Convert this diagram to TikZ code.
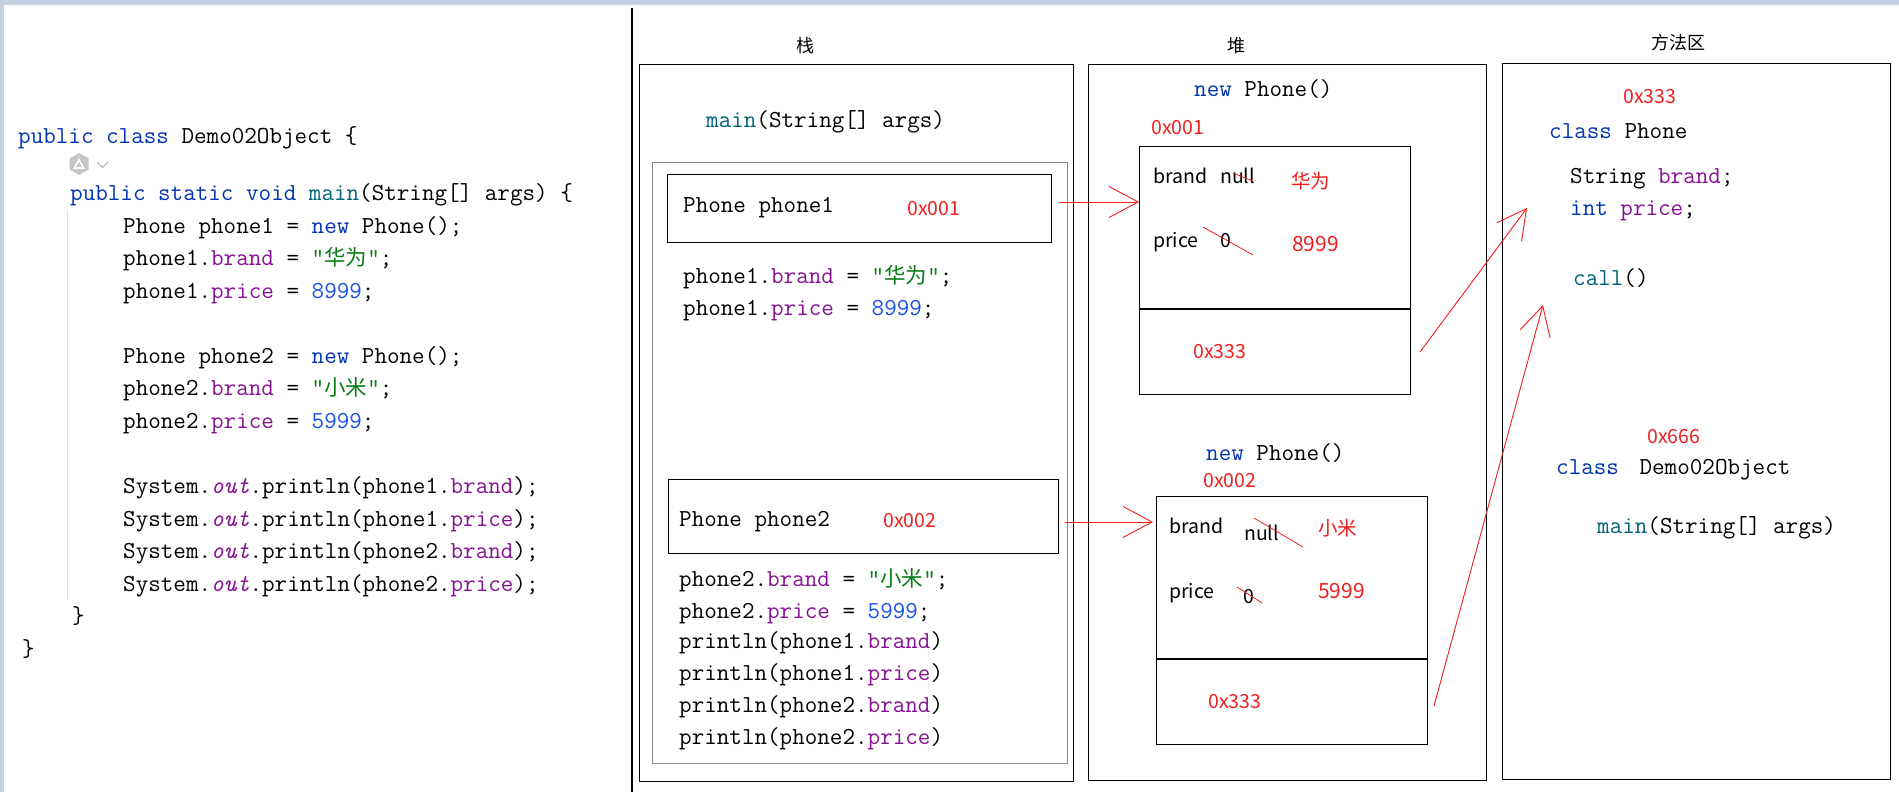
\documentclass[tikz,border=0pt]{standalone}
\usepackage{fontspec}
\usetikzlibrary{arrows.meta}
\newfontfamily\cjk{Noto Sans CJK SC}
\definecolor{ckwc}{HTML}{0033B3}
\definecolor{cfnc}{HTML}{00627A}
\definecolor{cfldc}{HTML}{871094}
\definecolor{cnumc}{HTML}{1750EB}
\definecolor{cstrc}{HTML}{067D17}
\definecolor{annc}{HTML}{F01E1E}
\definecolor{bandc}{HTML}{C5CFE0}
\definecolor{innerc}{HTML}{8C8C8C}
\newcommand{\ckw}[1]{\textcolor{ckwc}{#1}}
\newcommand{\cfn}[1]{\textcolor{cfnc}{#1}}
\newcommand{\cfld}[1]{\textcolor{cfldc}{#1}}
\newcommand{\cnum}[1]{\textcolor{cnumc}{#1}}
\newcommand{\cstr}[1]{\textcolor{cstrc}{#1}}
\newcommand{\cout}{\textcolor{cfldc}{\textit{out}}}
\newcommand{\dcj}[1]{{\cjk\fontsize{21.5}{24}\selectfont #1}}
\tikzset{
  tx/.style={anchor=west, inner sep=0pt},
  dc/.style={tx, text height=17pt, text depth=5pt, font=\fontsize{24.4}{28}\selectfont\ttfamily},
  sa/.style={tx, text height=16pt, text depth=2pt, font=\fontsize{19.5}{23}\selectfont\cjk},
  rd/.style={sa, text=annc},
  rdb/.style={sa, text=annc, font=\fontsize{21}{24}\selectfont\cjk},
  hd/.style={anchor=center, inner sep=0pt, font=\fontsize{18}{22}\selectfont\cjk},
  boxn/.style={draw, line width=1.3pt, rectangle, inner sep=0pt, anchor=north west},
  graybox/.style={boxn, draw=innerc, line width=1.2pt},
  rarrow/.style={draw=annc, line width=0.9pt, -{Straight Barb[length=29pt, width=31pt, line width=0.9pt]}},
  strike/.style={draw=annc, line width=0.8pt}
}
\begin{document}
\begin{tikzpicture}[x=1pt, y=-1pt]
\useasboundingbox (0,0) rectangle (1899,792);
\fill[white] (0,0) rectangle (1899,792);
% window chrome
\fill[bandc] (0,0) rectangle (1899,5);
\fill[bandc] (0,0) rectangle (3.5,792);
\draw[line width=1.3pt] (632,8) -- (632,792);
% editor guide line
\draw[gray!22, line width=1pt] (67,210) -- (67,600);
% gutter icon
\fill[gray!45] (79,153) -- (88.5,158.5) -- (88.5,169.5) -- (79,175) -- (69.5,169.5) -- (69.5,158.5) -- cycle;
\fill[white] (79,158) -- (85,169) -- (73,169) -- cycle;
\fill[gray!45] (79,162) -- (82,167) -- (76,167) -- cycle;
\draw[gray!70, line width=0.8pt] (97,162) -- (102.5,167.5) -- (108,162);

% ---------------- left code ----------------
\node[dc] (l1) at (18,137) {\ckw{public class} Demo02Object \{};
\node[dc] (l3) at (70,194) {\ckw{public static void} \cfn{main}(String[] args) \{};
\node[dc] (l4) at (123,227) {Phone phone1 = \ckw{new} Phone();};
\node[dc] (l5) at (123,259) {phone1.\cfld{brand} = \cstr{"\dcj{华为}"};};
\node[dc] (l6) at (123,292) {phone1.\cfld{price} = \cnum{8999};};
\node[dc] (l7) at (123,357) {Phone phone2 = \ckw{new} Phone();};
\node[dc] (l8) at (123,389) {phone2.\cfld{brand} = \cstr{"\dcj{小米}"};};
\node[dc] (l9) at (123,422) {phone2.\cfld{price} = \cnum{5999};};
\node[dc] (l10) at (123,487) {System.\cout.println(phone1.\cfld{brand});};
\node[dc] (l11) at (123,520) {System.\cout.println(phone1.\cfld{price});};
\node[dc] (l12) at (123,552) {System.\cout.println(phone2.\cfld{brand});};
\node[dc] (l13) at (123,585) {System.\cout.println(phone2.\cfld{price});};
\node[dc] (l14) at (72,617) {\}};
\node[dc] (l15) at (22,650) {\}};

% ---------------- stack ----------------
\node[hd] (zhan) at (805,46) {栈};
\node[boxn, minimum width=434pt, minimum height=717pt] (stack) at (639,64) {};
\node[dc] (smain) at (706,122) {\cfn{main}(String[] args)};
\node[graybox, minimum width=415pt, minimum height=601pt] (frame) at (652,162) {};
\node[boxn, minimum width=384pt, minimum height=68pt] (p1box) at (667,174) {};
\node[dc] (p1t) at (683,206) {Phone phone1};
\node[rd] (p1a) at (907,208) {0x001};
\node[dc] (s1) at (683,277) {phone1.\cfld{brand} = \cstr{"\dcj{华为}"};};
\node[dc] (s2) at (683,309) {phone1.\cfld{price} = \cnum{8999};};
\node[boxn, minimum width=390pt, minimum height=74pt] (p2box) at (668,479) {};
\node[dc] (p2t) at (679,520) {Phone phone2};
\node[rd] (p2a) at (883,520) {0x002};
\node[dc] (s3) at (679,580) {phone2.\cfld{brand} = \cstr{"\dcj{小米}"};};
\node[dc] (s4) at (679,612) {phone2.\cfld{price} = \cnum{5999};};
\node[dc] (s5) at (679,642) {println(phone1.\cfld{brand})};
\node[dc] (s6) at (679,674) {println(phone1.\cfld{price})};
\node[dc] (s7) at (679,706) {println(phone2.\cfld{brand})};
\node[dc] (s8) at (679,738) {println(phone2.\cfld{price})};

% ---------------- heap ----------------
\node[hd] (dui) at (1236,46) {堆};
\node[boxn, minimum width=398pt, minimum height=716pt] (heap) at (1088,64) {};
\node[dc] (n1) at (1194,90) {\ckw{new} Phone()};
\node[rd] (o1a) at (1151,127) {0x001};
\node[boxn, minimum width=271pt, minimum height=248pt] (obj1) at (1139,146) {};
\draw[line width=1.3pt] (obj1.west |- 0,309) -- (obj1.east |- 0,309);
\node[sa] (o1b) at (1153,176) {brand};
\node[sa] (o1n) at (1220,176) {null};
\node[rd] (o1bv) at (1291,181) {华为};
\node[sa] (o1p) at (1153,240) {price};
\node[sa] (o1z) at (1220,240) {0};
\node[rdb] (o1pv) at (1292,244) {8999};
\draw[strike] (1233,173) -- (1253,181);
\draw[strike] (1203,227) -- (1253,255);
\node[rd] (o1c) at (1193,351) {0x333};

\node[dc] (n2) at (1206,454) {\ckw{new} Phone()};
\node[rd] (o2a) at (1203,480) {0x002};
\node[boxn, minimum width=271pt, minimum height=248pt] (obj2) at (1156,496) {};
\draw[line width=1.3pt] (obj2.west |- 0,659) -- (obj2.east |- 0,659);
\node[sa] (o2b) at (1169,526) {brand};
\node[sa] (o2n) at (1244,533) {null};
\node[rd] (o2bv) at (1318,528) {小米};
\node[sa] (o2p) at (1169,591) {price};
\node[sa] (o2z) at (1243,596) {0};
\node[rdb] (o2pv) at (1318,591) {5999};
\draw[strike] (1254,518) -- (1303,547);
\draw[strike] (1237,587) -- (1262,603);
\node[rd] (o2c) at (1208,701) {0x333};

% ---------------- method area ----------------
\node[hd] (ffq) at (1678,43) {方法区};
\node[boxn, minimum width=388pt, minimum height=716pt] (method) at (1502,63) {};
\node[rd] (m1a) at (1623,96) {0x333};
\node[dc] (m1) at (1549,132) {\ckw{class} Phone};
\node[dc] (m2) at (1570,177) {String \cfld{brand};};
\node[dc] (m3) at (1570,209) {\ckw{int} \cfld{price};};
\node[dc] (m4) at (1573,279) {\cfn{call}()};
\node[rd] (m5a) at (1647,436) {0x666};
\node[dc] (m5) at (1556,468) {\ckw{class}\hspace{8pt} Demo02Object};
\node[dc] (m6) at (1597,527) {\cfn{main}(String[] args)};

% ---------------- arrows ----------------
\coordinate (a1s) at (1059,202);
\coordinate (a2s) at (1065,522);
\coordinate (a3s) at (1420,352);
\coordinate (a3e) at (1527,208);
\coordinate (a4s) at (1434,706);
\coordinate (a4e) at (1543,305);
\draw[rarrow] (a1s) -- (obj1.west |- a1s);
\draw[rarrow] (a2s) -- ([xshift=-3pt]obj2.west |- a2s);
\draw[rarrow] (a3s) -- (a3e);
\draw[rarrow] (a4s) -- (a4e);
\end{tikzpicture}
\end{document}
